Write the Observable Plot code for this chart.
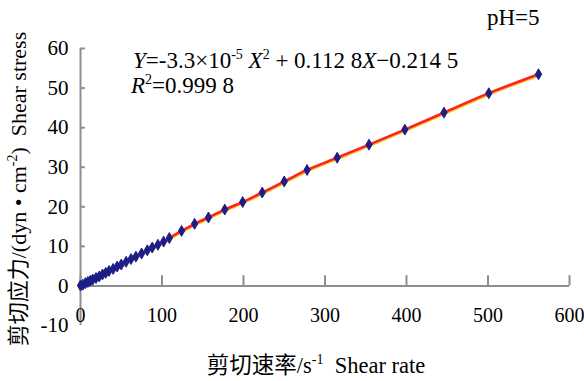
<!DOCTYPE html>
<html>
<head>
<meta charset="utf-8">
<script src="https://cdn.jsdelivr.net/npm/d3@7"></script>
<script src="https://cdn.jsdelivr.net/npm/@observablehq/plot@0.6"></script>
<style>
  html, body { margin: 0; padding: 0; background: #fff; }
  svg { display: block; }
</style>
</head>
<body>
<div id="chart"></div>
<script>
// Data (pH = 5)
const shearRate = [0, 3, 6, 9, 12, 15, 19, 23, 27, 31, 35, 40, 45, 50, 56, 62, 68, 75, 82, 88, 95, 102,
  109, 124, 140, 157, 177, 199, 223, 250, 278, 315, 354, 398, 446, 501, 562];
const shearStress = [0.1, 0.3, 0.7, 1.0, 1.3, 1.6, 2.0, 2.4, 2.9, 3.3, 3.8, 4.3, 4.9, 5.4, 6.1, 6.8, 7.4, 8.2, 9.0, 9.7, 10.4, 11.2,
  12.1, 13.9, 15.7, 17.3, 19.3, 21.2, 23.6, 26.4, 29.3, 32.4, 35.7, 39.5, 43.8, 48.7, 53.5];
const xTicks = [0, 100, 200, 300, 400, 500, 600];
const yTicks = [-10, 0, 10, 20, 30, 40, 50, 60];
const yTickMarks = [0, 10, 20, 30, 40, 50, 60];

const data = shearRate.map((x, i) => ({x, y: shearStress[i]}));

const serif = "'Liberation Serif', 'Times New Roman', 'DejaVu Serif', serif";
const axisGray = "#8e8e8e";

const plot = Plot.plot({
  width: 584,
  height: 381,
  marginLeft: 80,
  marginRight: 15,
  marginTop: 48,
  marginBottom: 56,
  style: {fontFamily: serif, fontSize: "21px", color: "#000", background: "#fff"},
  x: {type: "linear", domain: [0, 600], axis: null},
  y: {type: "linear", domain: [-10, 60], axis: null},
  marks: [
    // axes
    Plot.ruleX([0], {y1: -10, y2: 60, stroke: axisGray, strokeWidth: 2}),
    Plot.ruleY([0], {x1: 0, x2: 600, stroke: axisGray, strokeWidth: 2}),
    Plot.ruleX(xTicks, {x: d => d, y1: 0, y2: 2.6, stroke: axisGray, strokeWidth: 2}),
    Plot.ruleY(yTickMarks, {y: d => d, x1: 0, x2: 6, stroke: axisGray, strokeWidth: 2}),
    Plot.text(xTicks, {x: d => d, text: d => String(d), frameAnchor: "bottom", dy: -10, lineAnchor: "middle", fill: "#000", fontSize: 20}),
    Plot.text(yTicks, {y: d => d, text: d => String(d), frameAnchor: "left", dx: -12, textAnchor: "end", fill: "#000"}),
    // series line (yellow) and fitted line (red)
    Plot.line(data, {x: "x", y: "y", stroke: "#f2c21a", strokeWidth: 2.5, dy: 1.3, curve: "monotone-x"}),
    Plot.line(data, {x: "x", y: "y", stroke: "#ff1f1f", strokeWidth: 2.5, curve: "monotone-x"}),
    // points
    Plot.dot(data, {x: "x", y: "y", symbol: "diamond", r: 3.3, fill: "#1d1d86", stroke: "#1d1d86", strokeWidth: 1})
  ]
});

const svg = d3.select(plot);
const font = "'Liberation Serif', 'Times New Roman', 'DejaVu Serif', serif";
const cjk = "'Liberation Serif', 'Noto Sans CJK SC', serif";

function addText(x, y, size, family) {
  return svg.append("text").attr("x", x).attr("y", y).attr("text-anchor", "start")
    .attr("font-family", family).attr("font-size", size).attr("fill", "#000");
}

// pH label
addText(487, 25, 23, font).text("pH=5");

// Equation
const eq = addText(133, 68, 23, font);
eq.append("tspan").attr("font-style", "italic").text("Y");
eq.append("tspan").text("=-3.3×10");
eq.append("tspan").attr("font-size", 14).attr("dy", -9).text("-5");
eq.append("tspan").attr("dy", 9).text(" ");
eq.append("tspan").attr("font-style", "italic").text("X");
eq.append("tspan").attr("font-size", 14).attr("dy", -9).text("2");
eq.append("tspan").attr("dy", 9).text(" + 0.112 8");
eq.append("tspan").attr("font-style", "italic").text("X");
eq.append("tspan").text("−0.214 5");

const r2 = addText(131, 93, 23, font);
r2.append("tspan").attr("font-style", "italic").text("R");
r2.append("tspan").attr("font-size", 14).attr("dy", -9).text("2");
r2.append("tspan").attr("dy", 9).text("=0.999 8");

// X axis title
const xt = svg.append("text").attr("x", 316).attr("y", 373).attr("text-anchor", "middle")
  .attr("font-family", cjk).attr("font-size", 22.5).attr("fill", "#000");
xt.append("tspan").text("剪切速率/s");
xt.append("tspan").attr("font-size", 14).attr("dy", -9).text("-1");
xt.append("tspan").attr("dy", 9).text("  Shear rate");

// Y axis title
const yt = svg.append("text").attr("transform", "translate(26,189) rotate(-90)").attr("text-anchor", "middle")
  .attr("font-family", cjk).attr("font-size", 22).attr("fill", "#000");
yt.append("tspan").text("剪切应力/(dyn • cm");
yt.append("tspan").attr("font-size", 14).attr("dy", -9).text("-2");
yt.append("tspan").attr("dy", 9).text(")  Shear stress");

document.getElementById("chart").appendChild(plot);
</script>
</body>
</html>
